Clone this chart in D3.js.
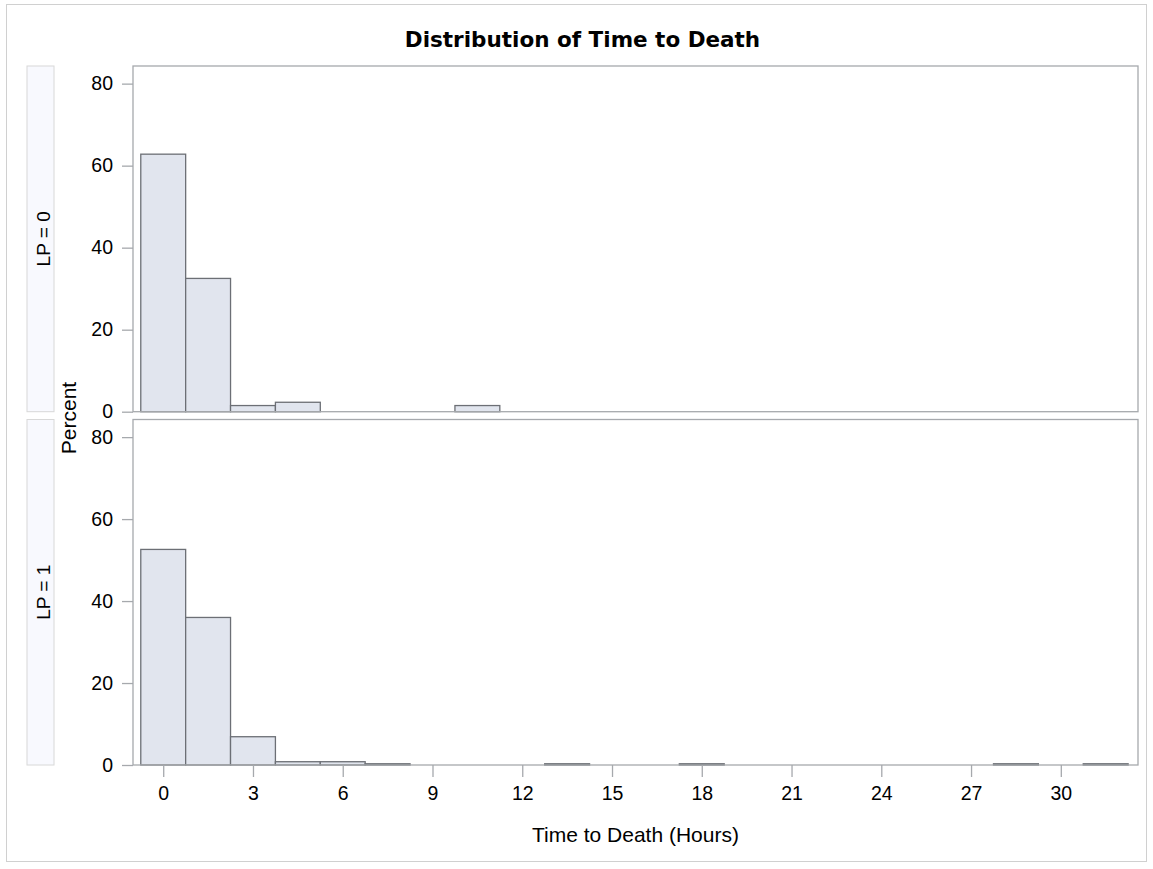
<!DOCTYPE html>
<html>
<head>
<meta charset="utf-8">
<script src="https://cdn.jsdelivr.net/npm/d3@7"></script>
<style>
    html, body { margin: 0; padding: 0; background: #fff; }
    svg { display: block; }
</style>
</head>
<body>
<svg id="chart" width="1153" height="869"></svg>
<script>
// histogram data, percent per 1.5 hour bin
var binMids = [0, 1.5, 3, 4.5, 6, 7.5, 9, 10.5, 12, 13.5, 15, 16.5,
    18, 19.5, 21, 22.5, 24, 25.5, 27, 28.5, 30, 31.5];
var binWidth = 1.5;

var panelLabels = ['LP = 0', 'LP = 1'];

var pctLP0 = [62.8, 32.5, 1.5, 2.3, 0, 0, 0, 1.5, 0, 0, 0, 0,
    0, 0, 0, 0, 0, 0, 0, 0, 0, 0];
var pctLP1 = [52.6, 36.0, 6.9, 0.8, 0.8, 0.3, 0, 0, 0, 0.3, 0, 0,
    0.3, 0, 0, 0, 0, 0, 0, 0.3, 0, 0.3];

var xTicks = [0, 3, 6, 9, 12, 15, 18, 21, 24, 27, 30];
var yTicks = [0, 20, 40, 60, 80];

var svg = d3.select('#chart');

var left = 133, right = 1138;
var panels = [
    {label: panelLabels[0], values: pctLP0, top: 66, bottom: 411.7},
    {label: panelLabels[1], values: pctLP1, top: 419.5, bottom: 765}
];

var x = d3.scaleLinear()
    .domain([-1.01, 32.58])
    .range([left, right]);

var tickFont = '"Liberation Sans", Arial, sans-serif';

// outer frame
svg.append('rect')
    .attr('x', 6.5).attr('y', 4.5)
    .attr('width', 1140).attr('height', 857)
    .attr('fill', 'none')
    .attr('stroke', '#d0d0d0');

svg.append('text')
    .attr('x', 582.5).attr('y', 46.5)
    .attr('text-anchor', 'middle')
    .attr('font-family', '"DejaVu Sans", Verdana, sans-serif')
    .attr('font-weight', 'bold')
    .attr('font-size', 21.5)
    .attr('fill', '#000')
    .text('Distribution of Time to Death');

panels.forEach(function (p, i) {
    var y = d3.scaleLinear()
        .domain([0, 84.3])
        .range([p.bottom, p.top]);

    var g = svg.append('g').classed('panel', true);

    // strip on the left
    g.append('rect')
        .attr('x', 27).attr('y', p.top)
        .attr('width', 27).attr('height', p.bottom - p.top)
        .attr('fill', '#f8f9fe')
        .attr('stroke', '#d8d8d8');

    g.append('text')
        .attr('transform', 'translate(50,' + (p.top + p.bottom) / 2 + ') rotate(-90)')
        .attr('text-anchor', 'middle')
        .attr('font-family', tickFont)
        .attr('font-size', 19)
        .attr('fill', '#000')
        .text(p.label);

    // bars
    var bins = binMids.map(function (m, j) {
        return {mid: m, value: p.values[j]};
    }).filter(function (d) { return d.value > 0; });

    g.selectAll('rect.bar')
        .data(bins)
        .enter()
        .append('rect')
        .classed('bar', true)
        .attr('x', function (d) { return x(d.mid - binWidth / 2); })
        .attr('width', function (d) { return x(d.mid + binWidth / 2) - x(d.mid - binWidth / 2); })
        .attr('y', function (d) { return y(d.value); })
        .attr('height', function (d) { return p.bottom - y(d.value); })
        .attr('fill', '#e1e5ee')
        .attr('stroke', '#6c6f75')
        .attr('stroke-width', 1.3);

    // y axis
    var yAxis = g.append('g')
        .attr('transform', 'translate(' + left + ',0)')
        .call(d3.axisLeft(y).tickValues(yTicks).tickSize(11).tickPadding(9));
    style(yAxis);

    // panel frame
    g.append('rect')
        .attr('x', left).attr('y', p.top)
        .attr('width', right - left).attr('height', p.bottom - p.top)
        .attr('fill', 'none')
        .attr('stroke', '#a6a9ad')
        .attr('stroke-width', 1.3);

    if (i === panels.length - 1) {
        var xAxis = g.append('g')
            .attr('transform', 'translate(0,' + p.bottom + ')')
            .call(d3.axisBottom(x).tickValues(xTicks).tickSize(12).tickPadding(9));
        style(xAxis);
    }
});

svg.append('text')
    .attr('transform', 'translate(75.5,418) rotate(-90)')
    .attr('text-anchor', 'middle')
    .attr('font-family', tickFont)
    .attr('font-size', 21)
    .attr('fill', '#000')
    .text('Percent');

svg.append('text')
    .attr('x', (left + right) / 2).attr('y', 842)
    .attr('text-anchor', 'middle')
    .attr('font-family', tickFont)
    .attr('font-size', 21)
    .attr('fill', '#000')
    .text('Time to Death (Hours)');

function style(axis) {
    axis.select('.domain').remove();
    axis.selectAll('.tick line')
        .attr('stroke', '#a6a9ad')
        .attr('stroke-width', 1.3);
    axis.selectAll('.tick text')
        .attr('font-family', tickFont)
        .attr('font-size', 19.5)
        .attr('fill', '#000');
}
</script>
</body>
</html>
